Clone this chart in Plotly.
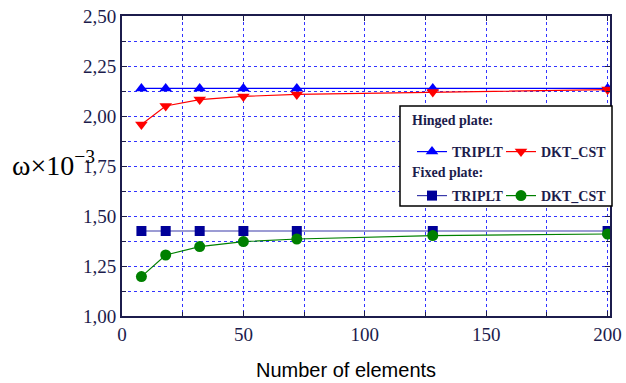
import plotly.graph_objects as go

elements = [8, 18, 32, 50, 72, 128, 200]
hinged_triplt = [2.138, 2.138, 2.138, 2.138, 2.138, 2.138, 2.138]
hinged_dkt = [1.958, 2.050, 2.082, 2.098, 2.108, 2.120, 2.132]
fixed_triplt = [1.425, 1.425, 1.425, 1.425, 1.425, 1.425, 1.425]
fixed_dkt = [1.197, 1.305, 1.347, 1.372, 1.385, 1.402, 1.410]

x_ticks = [0, 50, 100, 150, 200]
y_ticks = [1.00, 1.25, 1.50, 1.75, 2.00, 2.25, 2.50]

navy = "#1c1c4c"
grid_blue = "#3333ff"
serif = "Liberation Serif, Times New Roman, serif"

fig = go.Figure()
fig.add_trace(go.Scatter(x=elements, y=hinged_triplt, mode="lines+markers", name="TRIPLT",
                         line=dict(color="#0000ff", width=1.2),
                         marker=dict(symbol="triangle-up", size=11, color="#0000ff"),
                         legend="legend"))
fig.add_trace(go.Scatter(x=elements, y=hinged_dkt, mode="lines+markers", name="DKT_CST",
                         line=dict(color="#ff0000", width=1.2),
                         marker=dict(symbol="triangle-down", size=11, color="#ff0000"),
                         legend="legend2"))
fig.add_trace(go.Scatter(x=elements, y=fixed_triplt, mode="lines+markers", name="TRIPLT",
                         line=dict(color="#3a3aaa", width=1.2),
                         marker=dict(symbol="square", size=10, color="#000099"),
                         legend="legend3"))
fig.add_trace(go.Scatter(x=elements, y=fixed_dkt, mode="lines+markers", name="DKT_CST",
                         line=dict(color="#008000", width=1.2),
                         marker=dict(symbol="circle", size=11, color="#008000"),
                         legend="legend4"))

axis_common = dict(
    showline=True, linecolor=navy, linewidth=2, mirror="allticks",
    ticks="inside", ticklen=5, tickcolor=navy,
    showgrid=True, gridcolor=grid_blue, griddash="dot", gridwidth=1,
    zeroline=False, ticklabeloverflow="allow",
    tickfont=dict(family=serif, size=19, color=navy),
)

fig.update_xaxes(range=[0, 201], tickvals=x_ticks,
                 minor=dict(dtick=25, tick0=0, ticks="inside", ticklen=4, tickcolor=navy,
                            showgrid=True, gridcolor=grid_blue, griddash="dot", gridwidth=1),
                 **axis_common)
fig.update_yaxes(range=[1.0, 2.5], tickvals=y_ticks, tickformat=".2f",
                 minor=dict(dtick=0.125, tick0=1.0, ticks="inside", ticklen=4, tickcolor=navy,
                            showgrid=True, gridcolor=grid_blue, griddash="dot", gridwidth=1),
                 **axis_common)

legend_font = dict(family=serif, size=14, color=navy, weight="bold")
leg_common = dict(xanchor="left", yanchor="middle", orientation="h",
                  bgcolor="rgba(0,0,0,0)", font=legend_font, itemwidth=30)


def px_x(p):
    return (p - 122) / 488


def px_y(p):
    return (316 - p) / 300


fig.update_layout(
    width=626, height=383,
    margin=dict(l=122, r=16, t=16, b=67, autoexpand=False),
    paper_bgcolor="white", plot_bgcolor="white",
    separators=",.",
    showlegend=True,
    legend=dict(x=px_x(412), y=px_y(152), **leg_common),
    legend2=dict(x=px_x(501), y=px_y(152), **leg_common),
    legend3=dict(x=px_x(412), y=px_y(196), **leg_common),
    legend4=dict(x=px_x(501), y=px_y(196), **leg_common),
    shapes=[dict(type="rect", xref="paper", yref="paper", x0=px_x(400), x1=px_x(612),
                 y0=px_y(206), y1=px_y(106),
                 line=dict(color="black", width=1.5), fillcolor="white", layer="above")],
    annotations=[
        dict(text="Hinged plate:", xref="paper", yref="paper", x=px_x(410), y=px_y(120),
             xanchor="left", yanchor="middle", showarrow=False, font=legend_font),
        dict(text="Fixed plate:", xref="paper", yref="paper", x=px_x(410), y=px_y(172),
             xanchor="left", yanchor="middle", showarrow=False, font=legend_font),
        dict(text="ω×10<sup>−3</sup>", xref="paper", yref="paper", x=-0.14, y=0.51,
             xanchor="center", yanchor="middle", showarrow=False,
             font=dict(family=serif, size=28, color="black")),
        dict(text="Number of elements", xref="paper", yref="paper", x=0.459, y=-0.135,
             xanchor="center", yanchor="top", showarrow=False,
             font=dict(family="Liberation Sans Narrow, Liberation Sans, Arial, sans-serif", size=20, color="black")),
    ],
)

fig.write_html("out.html", config={"displayModeBar": False},
               post_script="document.body.style.margin='0px';document.body.style.padding='0px';")
